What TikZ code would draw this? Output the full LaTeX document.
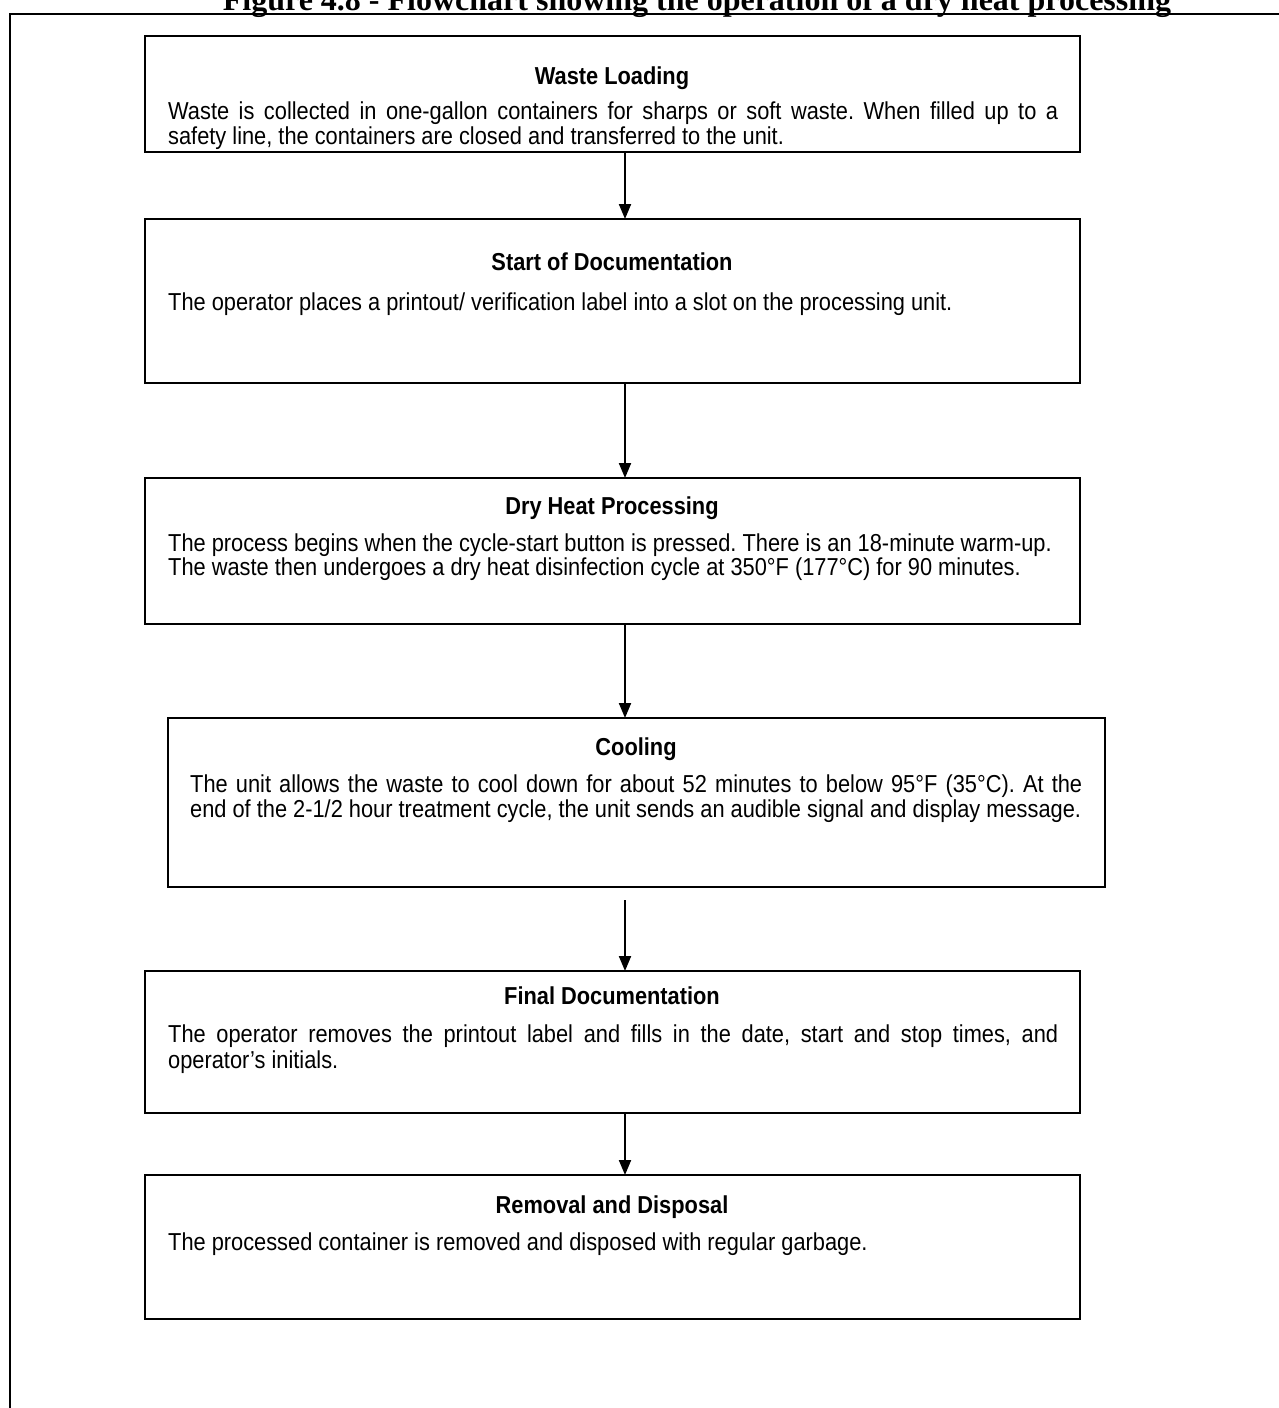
\documentclass[tikz,border=0pt]{standalone}
\usepackage{fontspec}
\setmainfont{Liberation Sans}
\newfontfamily\narrowfont[FakeStretch=0.89]{Liberation Sans}
\newfontfamily\titlefont{Liberation Serif}
\usetikzlibrary{arrows.meta}
\frenchspacing
\begin{document}
\begin{tikzpicture}[x=1pt,y=-1pt,
  box/.style={draw,line width=2pt,inner sep=0pt,outer sep=0pt,anchor=north west},
  head/.style={anchor=base,inner sep=0pt,font=\narrowfont\fontsize{24.5}{28}\selectfont\bfseries},
  body/.style={anchor=base west,inner sep=0pt,font=\narrowfont\fontsize{24.5}{28}\selectfont\frenchspacing},
  arr/.style={line width=2pt,-{Triangle[length=15pt,width=12pt]}}]
\useasboundingbox (0,0) rectangle (1278,1408);
\fill[white] (0,0) rectangle (1278,1408);
% title (cut off at top)
\node[anchor=base,inner sep=0pt,font=\titlefont\bfseries\fontsize{32}{34}\selectfont] (title) at (697,10)
  {Figure 4.8 - Flowchart showing the operation of a dry heat processing};
% outer frame
\draw[line width=2.5pt] (1290,14) -- (10,14) -- (10,1420);
% boxes
\node[box,minimum width=935pt,minimum height=116pt] (b1) at (145,36) {};
\node[box,minimum width=935pt,minimum height=164pt] (b2) at (145,219) {};
\node[box,minimum width=935pt,minimum height=146pt] (b3) at (145,478) {};
\node[box,minimum width=937pt,minimum height=169pt] (b4) at (168,718) {};
\node[box,minimum width=935pt,minimum height=142pt] (b5) at (145,971) {};
\node[box,minimum width=935pt,minimum height=144pt] (b6) at (145,1175) {};
% texts
\node[head] (h1) at (612,84) {Waste Loading};
\node[body] (t1a) at (168,119) {\makebox[890pt][s]{Waste is collected in one-gallon containers for sharps or soft waste. When filled up to a}};
\node[body] (t1b) at (168,144) {safety line, the containers are closed and transferred to the unit.};
\node[head] (h2) at (612,270) {Start of Documentation};
\node[body] (t2a) at (168,310) {The operator places a printout/ verification label into a slot on the processing unit.};
\node[head] (h3) at (612,514) {Dry Heat Processing};
\node[body] (t3a) at (168,551) {The process begins when the cycle-start button is pressed. There is an 18-minute warm-up.};
\node[body] (t3b) at (168,575) {The waste then undergoes a dry heat disinfection cycle at 350°F (177°C) for 90 minutes.};
\node[head] (h4) at (636,755) {Cooling};
\node[body] (t4a) at (190,792) {\makebox[892pt][s]{The unit allows the waste to cool down for about 52 minutes to below 95°F (35°C). At the}};
\node[body] (t4b) at (190,817) {end of the 2-1/2 hour treatment cycle, the unit sends an audible signal and display message.};
\node[head] (h5) at (612,1004) {Final Documentation};
\node[body] (t5a) at (168,1042) {\makebox[890pt][s]{The operator removes the printout label and fills in the date, start and stop times, and}};
\node[body] (t5b) at (168,1068) {operator’s initials.};
\node[head] (h6) at (612,1213) {Removal and Disposal};
\node[body] (t6a) at (168,1250) {The processed container is removed and disposed with regular garbage.};
% connectors
\coordinate (ax) at (625,0);
\coordinate (c4) at (625,900);
\draw[arr] (b1.south -| ax) -- (b2.north -| ax);
\draw[arr] (b2.south -| ax) -- (b3.north -| ax);
\draw[arr] (b3.south -| ax) -- (b4.north -| ax);
\draw[arr] (c4) -- (b5.north -| ax);
\draw[arr] (b5.south -| ax) -- (b6.north -| ax);
\end{tikzpicture}
\end{document}
